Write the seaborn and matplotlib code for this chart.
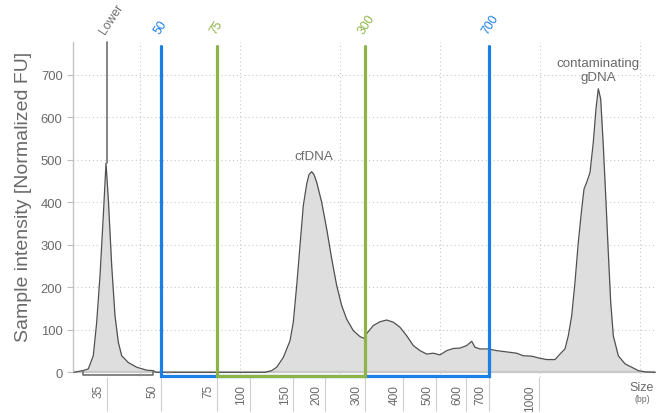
import numpy as np
import pandas as pd
import matplotlib
matplotlib.use("Agg")
import matplotlib.pyplot as plt
import matplotlib.transforms as mtransforms
import seaborn as sns

# Electropherogram trace: migration position (arbitrary units) vs. normalized fluorescence
position = [1, 9.7, 15.3, 20.3, 23.7, 27, 30.3, 33, 35.3, 38.7, 42, 45.3, 48.7, 55.3,
            63.7, 73.7, 80.3, 83, 97, 192, 198.7, 203.7, 210.3, 217, 220.3, 223.7, 227,
            230.3, 233.7, 236, 238.7, 241, 243.7, 248.7, 253.7, 258.7, 263.7, 268.7,
            273.7, 280.3, 287, 291, 294, 300.3, 307, 313.7, 320.3, 327, 333.7, 340.3,
            347, 353.7, 360.3, 367, 373.7, 380.3, 387, 393.7, 398.7, 402, 407, 415.3,
            423.7, 433.7, 443.7, 450.3, 458.7, 467, 473.7, 482, 487, 492, 495.3, 498.7,
            502, 505.3, 508.7, 511, 513.7, 517, 520.3, 523, 525.3, 527.7, 530.3, 533,
            535.3, 537.7, 540.3, 545.3, 552, 558.7, 565.3, 572, 582]
intensity = [0, 4, 8, 39, 118, 227, 368, 492, 408, 251, 133, 71, 39, 23,
             12, 5, 4, 0, 0, 0, 4, 12, 35, 74, 118, 204, 298,
             392, 443, 465, 472, 465, 447, 400, 337, 267, 204, 157,
             125, 98, 84, 80, 92, 110, 119, 123, 118, 106, 86, 63,
             51, 43, 45, 41, 51, 56, 57, 63, 73, 59, 55, 55,
             51, 48, 45, 39, 38, 33, 30, 30, 43, 55, 86, 133,
             212, 306, 384, 431, 447, 470, 541, 620, 667, 643, 533, 400,
             282, 165, 86, 39, 20, 12, 4, 1, 0]

# Size ladder: fragment size (bp) and its migration position
ladder_bp = [35, 50, 75, 100, 150, 200, 300, 400, 500, 600, 700, 1000]
ladder_pos = [33.7, 88, 144, 177, 220.3, 252, 292.3, 330.3, 362.7, 392.7, 415.5, 466]

# Region markers (bp)
lower_bp = 35
outer_region_bp = (50, 700)
inner_region_bp = (75, 300)

y_ticks = [0, 100, 200, 300, 400, 500, 600, 700]

BLUE = "#1a7fe6"
GREEN = "#8db447"
GRAY_TXT = "#6a6a6a"

sns.set_style("white")
plt.rcParams["font.family"] = ["Liberation Sans", "DejaVu Sans"]

fig = plt.figure(figsize=(6.6, 4.14), dpi=100)
ax = fig.add_axes([73 / 660, 1 - 378 / 414, 583 / 660, 335 / 414])

df = pd.DataFrame({"position": position, "intensity": intensity})
ax.fill_between(df["position"], 0, df["intensity"], color="#dedede", lw=0, zorder=2)
sns.lineplot(data=df, x="position", y="intensity", ax=ax, color="#505050",
             lw=0.9, zorder=4, sort=False)

ax.set_xlim(0, 583)
ax.set_ylim(-11, 777)

# zero baseline
ax.axhline(0, color="#c9c9c9", lw=1.6, zorder=3)

# grid: dotted, fixed spacing along x, at y ticks
ax.set_xticks(np.arange(67, 583, 100), minor=True)
ax.set_yticks(y_ticks)
ax.grid(which="minor", axis="x", color="#c8c8c8", ls=(0, (1, 2.5)), lw=0.8, zorder=0)
for v in y_ticks[1:]:
    ax.axhline(v, color="#c8c8c8", ls=(0, (1, 2.5)), lw=0.8, zorder=0)
ax.tick_params(axis="x", which="minor", length=0)

# x ticks from the size ladder
ax.set_xticks(ladder_pos)
ax.set_xticklabels([str(b) for b in ladder_bp], rotation=90, color=GRAY_TXT, fontsize=8.6)
ax.tick_params(axis="x", which="major", direction="out", length=24.5, width=0.8,
               color="#cfcfcf", pad=-24.5 + 5.2, bottom=True)
shift = mtransforms.ScaledTranslation(-8.5 / 100, 0, fig.dpi_scale_trans)
for lab in ax.get_xticklabels():
    lab.set_transform(lab.get_transform() + shift)

ax.set_yticklabels([str(v) for v in y_ticks], color=GRAY_TXT, fontsize=9.4)
ax.tick_params(axis="y", direction="out", length=4, width=0.8, color="#bdbdbd",
               pad=3.5, left=True)
ax.set_ylabel("Sample intensity [Normalized FU]", fontsize=14, color=GRAY_TXT)
ax.yaxis.set_label_coords(-0.071, 0.54)
ax.set_xlabel("")

for s in ["top", "right", "bottom"]:
    ax.spines[s].set_visible(False)
ax.spines["left"].set_color("#c4c4c4")
ax.spines["left"].set_linewidth(1.0)
ax.spines["left"].set_bounds(0, 777)


def to_pos(bp):
    return float(np.interp(bp, ladder_bp, ladder_pos))


# lower marker line and its integration bracket
lx = to_pos(lower_bp)
ax.plot([lx, lx], [492, 777], color="#707070", lw=1.2, zorder=5, clip_on=False)
ax.plot([9.7, 9.7, 80.3, 80.3], [3, -7, -7, 3], color="#707070", lw=1.2, zorder=5)
ax.plot([93, 97], [1, 1], color="#707070", lw=1.0, zorder=5)


def region(bps, color):
    x0, x1 = to_pos(bps[0]), to_pos(bps[1])
    ax.plot([x0, x0, x1, x1], [768, -8, -8, 768], color=color, lw=2.3,
            zorder=6, solid_joinstyle="miter", clip_on=False)


region(outer_region_bp, BLUE)
region(inner_region_bp, GREEN)


def marker_label(bp, text, color):
    ax.annotate(text, xy=(to_pos(bp), 1), xycoords=("data", "axes fraction"),
                xytext=(0.8, 4.5), textcoords="offset points", rotation=57,
                rotation_mode="anchor", ha="left", va="bottom", fontsize=8.8,
                color=color, annotation_clip=False)


marker_label(lower_bp, "Lower", "#707070")
marker_label(outer_region_bp[0], "50", BLUE)
marker_label(inner_region_bp[0], "75", GREEN)
marker_label(inner_region_bp[1], "300", GREEN)
marker_label(outer_region_bp[1], "700", BLUE)

# peak annotations
ax.text(241, 509, "cfDNA", ha="center", va="center", fontsize=9.6, color=GRAY_TXT)
ax.text(525, 711, "contaminating\ngDNA", ha="center", va="center", fontsize=9.6,
        color=GRAY_TXT, linespacing=1.2)

# axis unit label
ax.text(569, -34, "Size", ha="center", va="center", fontsize=9, color=GRAY_TXT,
        clip_on=False)
ax.text(569.5, -61, "(bp)", ha="center", va="center", fontsize=6.2, color=GRAY_TXT,
        clip_on=False)

fig.savefig("out.png", dpi=100)
